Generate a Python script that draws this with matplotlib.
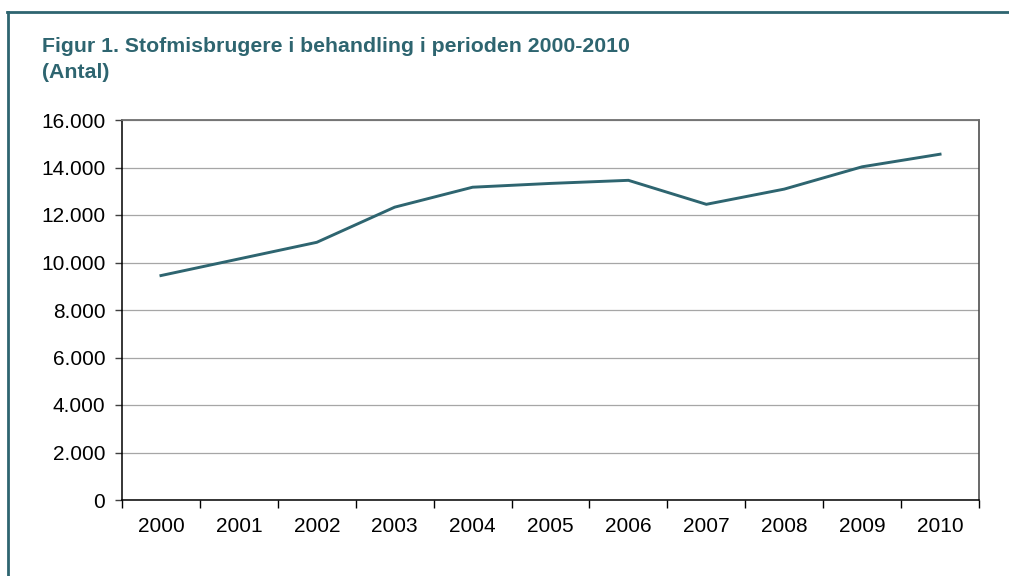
import matplotlib
matplotlib.use("Agg")
import matplotlib.pyplot as plt
from matplotlib.lines import Line2D
from matplotlib.ticker import FixedLocator, FuncFormatter

years = ["2000", "2001", "2002", "2003", "2004", "2005", "2006", "2007", "2008", "2009", "2010"]
values = [9450, 10150, 10850, 12330, 13170, 13330, 13460, 12450, 13090, 14030, 14560]
yticks = [0, 2000, 4000, 6000, 8000, 10000, 12000, 14000, 16000]

teal = "#2E6570"
plt.rcParams['font.family'] = ['Liberation Sans', 'DejaVu Sans']

W, H = 1009, 576
fig = plt.figure(figsize=(W / 100, H / 100), dpi=100)
ax = fig.add_axes([122 / W, (H - 500) / H, 857 / W, 380 / H])

x = list(range(len(years)))
ax.plot(x, values, color=teal, lw=2.1, solid_joinstyle='miter', zorder=3)

ax.set_xlim(-0.5, len(years) - 0.5)
ax.set_ylim(0, 16000)
ax.set_yticks(yticks)
ax.yaxis.set_major_formatter(FuncFormatter(lambda v, p: f"{int(v):,}".replace(",", ".")))
ax.grid(axis='y', color='#A6A6A6', lw=0.9)
ax.set_axisbelow(True)

ax.set_xticks(x)
ax.set_xticklabels(years)
ax.xaxis.set_minor_locator(FixedLocator([i - 0.5 for i in range(len(years) + 1)]))
ax.tick_params(axis='x', which='major', length=0, pad=12.5, labelsize=15)
ax.tick_params(axis='x', which='minor', length=6, width=1, direction='out', color='black')
ax.tick_params(axis='y', which='major', length=5, width=1, direction='out', pad=7, labelsize=15, color='#404040')

for s in ['left', 'bottom']:
    ax.spines[s].set_color('black')
    ax.spines[s].set_linewidth(1.1)
ax.spines['top'].set_color('#707070')
ax.spines['top'].set_linewidth(1.3)
ax.spines['right'].set_color('#404040')
ax.spines['right'].set_linewidth(1.1)

fig.text(42 / W, 1 - 47 / H, "Figur 1. Stofmisbrugere i behandling i perioden 2000-2010",
         color=teal, fontsize=15.3, fontweight='bold', va='center', ha='left')
fig.text(42 / W, 1 - 72 / H, "(Antal)",
         color=teal, fontsize=15.3, fontweight='bold', va='center', ha='left')

# outer frame (left and top)
fig.add_artist(Line2D([7.5 / W, 7.5 / W], [0, 1 - 12 / H], color=teal, lw=2, transform=fig.transFigure))
fig.add_artist(Line2D([6.5 / W, 1], [1 - 12 / H, 1 - 12 / H], color=teal, lw=2, transform=fig.transFigure))

fig.savefig("out.png", dpi=100)
